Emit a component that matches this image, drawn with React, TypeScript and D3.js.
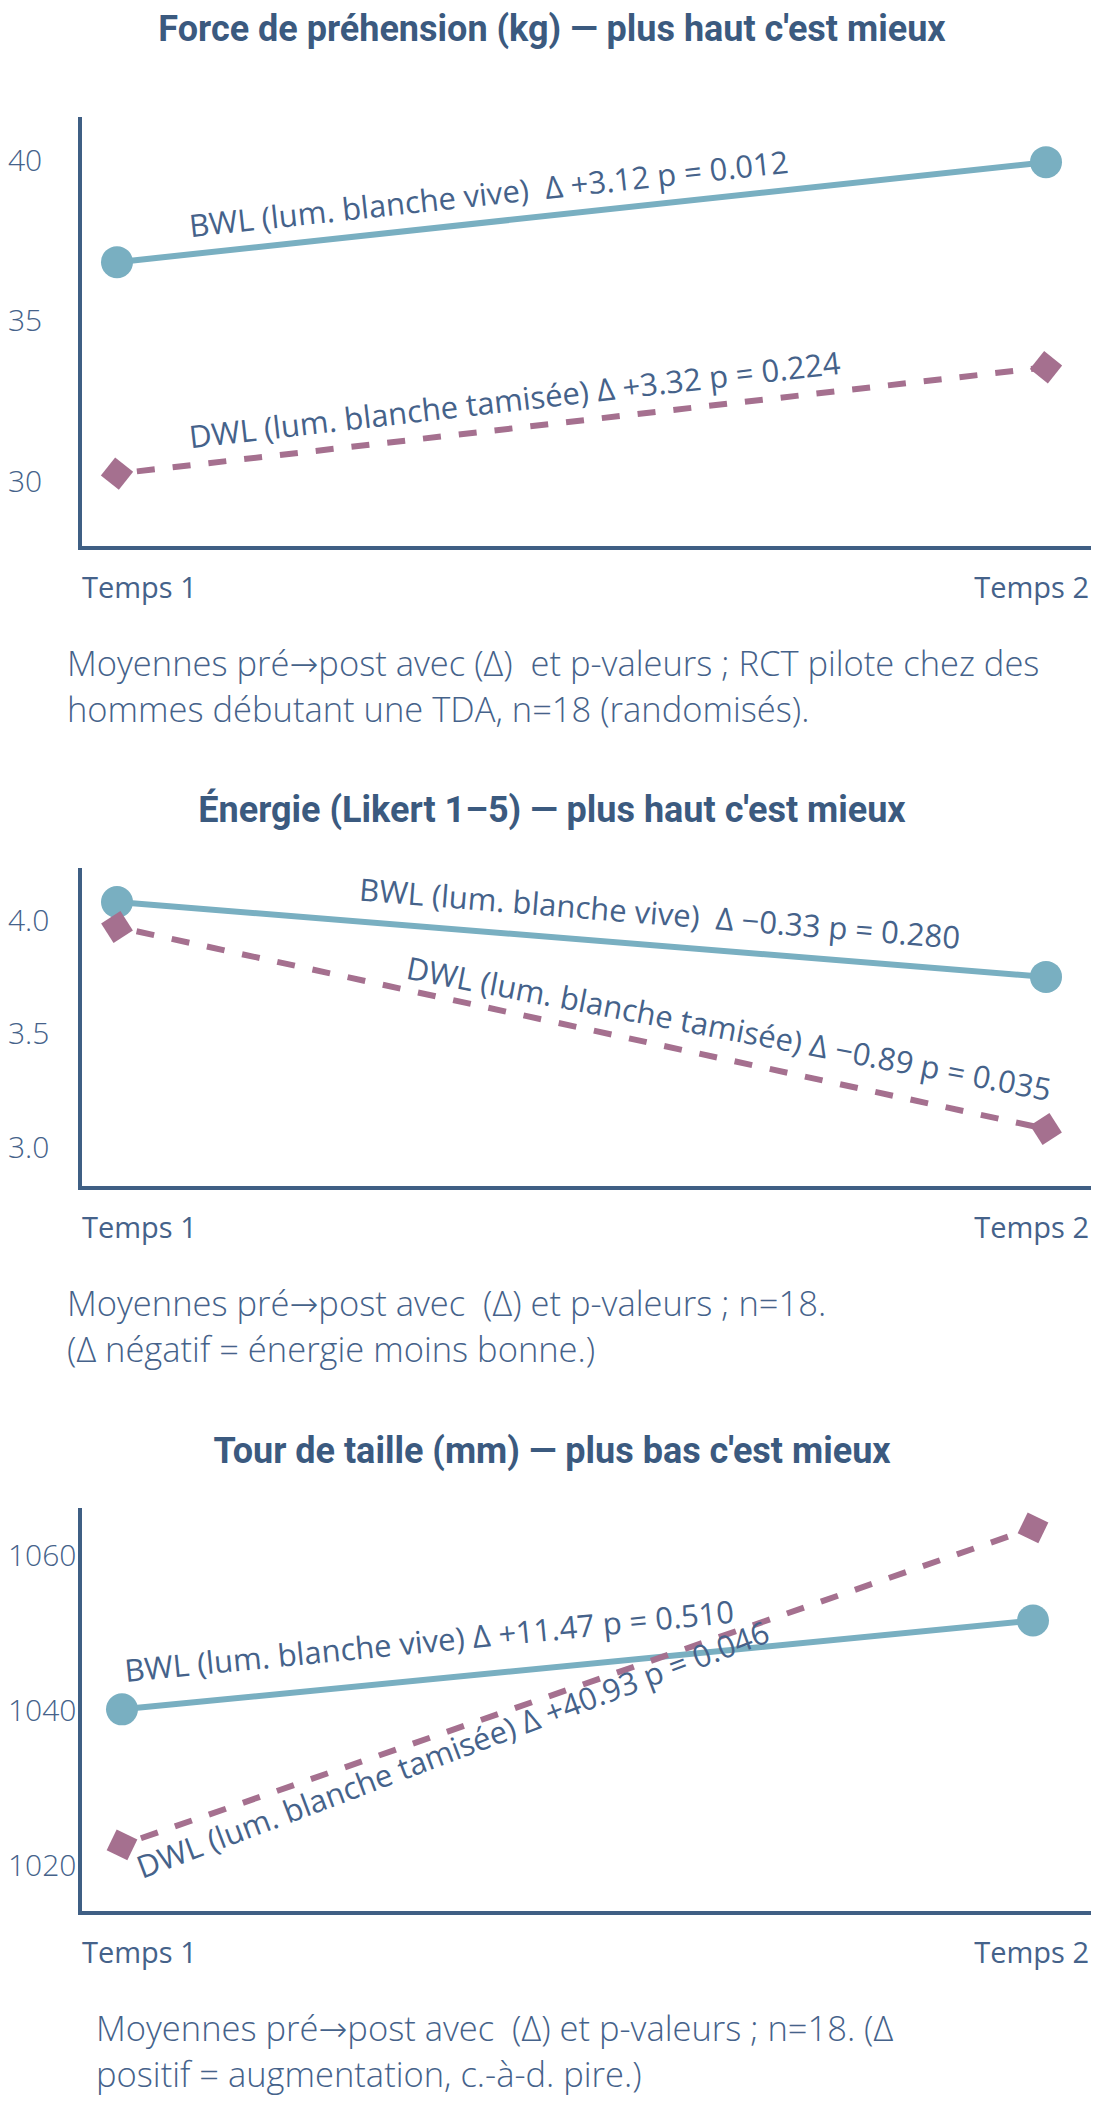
import { useEffect, useRef } from "react";
import * as d3 from "d3";

// ---- data ----
const times = ["Temps 1", "Temps 2"];

const gripBWL = [36.82, 39.94];
const gripDWL = [30.22, 33.54];
const gripTicks = [30, 35, 40];

const energyBWL = [4.08, 3.75];
const energyDWL = [3.97, 3.08];
const energyTicks = [3.0, 3.5, 4.0];

const waistBWL = [1040.1, 1051.57];
const waistDWL = [1022.6, 1063.53];
const waistTicks = [1020, 1040, 1060];

const titles = [
    "Force de préhension (kg) — plus haut c'est mieux",
    "Énergie (Likert 1–5) — plus haut c'est mieux",
    "Tour de taille (mm) — plus bas c'est mieux",
];

const bwlLabels = [
    "BWL (lum. blanche vive)  Δ +3.12 p = 0.012",
    "BWL (lum. blanche vive)  Δ −0.33 p = 0.280",
    "BWL (lum. blanche vive) Δ +11.47 p = 0.510",
];
const dwlLabels = [
    "DWL (lum. blanche tamisée) Δ +3.32 p = 0.224",
    "DWL (lum. blanche tamisée) Δ −0.89 p = 0.035",
    "DWL (lum. blanche tamisée) Δ +40.93 p = 0.046",
];

const captions = [
    ["Moyennes pré→post avec (Δ)  et p-valeurs ; RCT pilote chez des", "hommes débutant une TDA, n=18 (randomisés)."],
    ["Moyennes pré→post avec  (Δ) et p-valeurs ; n=18.", "(Δ négatif = énergie moins bonne.)"],
    ["Moyennes pré→post avec  (Δ) et p-valeurs ; n=18. (Δ", "positif = augmentation, c.-à-d. pire.)"],
];

const tickFormats = [d3.format("d"), d3.format(".1f"), d3.format("d")];

// ---- layout ----
const WIDTH = 1104;
const HEIGHT = 2122;
const AXIS_X = 80;
const AXIS_END = 1091;

const panels = [
    { bwl: gripBWL, dwl: gripDWL, ticks: gripTicks, titleY: 41, top: 117, bottom: 548, x0: 117, x1: 1046, domain: [27.9, 41.35], capX: 67,
      bwlLab: { t: 0.079, dv: 17, da: 0 }, dwlLab: { t: 0.079, dv: 17, da: 0 } },
    { bwl: energyBWL, dwl: energyDWL, ticks: energyTicks, titleY: 822, top: 868, bottom: 1188, x0: 117, x1: 1046, domain: [2.82, 4.23], capX: 67,
      bwlLab: { t: 0.26, dv: 21, da: 0 }, dwlLab: { t: 0.31, dv: 11, da: -1.5 } },
    { bwl: waistBWL, dwl: waistDWL, ticks: waistTicks, titleY: 1463, top: 1508, bottom: 1913, x0: 122, x1: 1033, domain: [1013.8, 1066.1], capX: 96,
      bwlLab: { t: 0.004, dv: 27, da: 0 }, dwlLab: { t: 0.022, dv: -41, da: -1.5 } },
];

const COL_AXIS = "#3f5f84";
const COL_TITLE = "#3b5a7f";
const COL_TEXT = "#45628a";
const COL_BWL = "#79afc1";
const COL_DWL = "#a5708f";
const FONT_BODY = "'Open Sans', sans-serif";
const FONT_TITLE = "Roboto, sans-serif";

// Open Sans has no arrow glyph, so draw "→" with DejaVu Sans
const addText = (sel: d3.Selection<SVGTextElement, any, any, any>, txt: string) => {
    txt.split(/(→)/).forEach((part) => {
        if (!part) return;
        const ts = sel.append("tspan").text(part);
        if (part === "→") ts.attr("font-family", "'DejaVu Sans'").attr("font-weight", 300);
    });
};

const App = () => {
    const chartRef = useRef<SVGSVGElement | null>(null);

    useEffect(() => {
        if (!chartRef.current) return;
        const svg = d3.select(chartRef.current);
        svg.selectAll("*").remove();

        svg.append("rect").attr("width", WIDTH).attr("height", HEIGHT).attr("fill", "#fff");

        panels.forEach((p, i) => {
            const g = svg.append("g");
            const x = d3.scalePoint<string>().domain(times).range([p.x0, p.x1]);
            const y = d3.scaleLinear().domain(p.domain).range([p.bottom, p.top]);

            // title
            g.append("text")
                .attr("x", WIDTH / 2)
                .attr("y", p.titleY)
                .attr("text-anchor", "middle")
                .attr("font-family", FONT_TITLE)
                .attr("font-weight", 700)
                .attr("font-size", 36)
                .attr("fill", COL_TITLE)
                .text(titles[i]);

            // axes (plain lines, no tick marks)
            g.append("line")
                .attr("x1", AXIS_X).attr("x2", AXIS_X)
                .attr("y1", p.top).attr("y2", p.bottom)
                .attr("stroke", COL_AXIS).attr("stroke-width", 4);
            g.append("line")
                .attr("x1", AXIS_X - 2).attr("x2", AXIS_END)
                .attr("y1", p.bottom).attr("y2", p.bottom)
                .attr("stroke", COL_AXIS).attr("stroke-width", 4);

            g.selectAll(".ytick")
                .data(p.ticks)
                .enter()
                .append("text")
                .attr("x", 8)
                .attr("y", (d) => y(d))
                .attr("dy", "0.36em")
                .attr("font-family", FONT_BODY)
                .attr("font-weight", 300)
                .attr("font-size", 30)
                .attr("fill", COL_TEXT)
                .text((d) => tickFormats[i](d));

            g.selectAll(".xtick")
                .data(times)
                .enter()
                .append("text")
                .attr("x", (_, k) => (k === 0 ? AXIS_X + 2 : AXIS_END - 2))
                .attr("y", p.bottom + 50)
                .attr("text-anchor", (_, k) => (k === 0 ? "start" : "end"))
                .attr("font-family", FONT_BODY)
                .attr("font-size", 29)
                .attr("fill", COL_TEXT)
                .text((d) => d);

            const line = d3.line<number>()
                .x((_, k) => x(times[k])!)
                .y((d) => y(d));

            g.append("path")
                .attr("d", line(p.bwl))
                .attr("fill", "none")
                .attr("stroke", COL_BWL)
                .attr("stroke-width", 6);
            g.append("path")
                .attr("d", line(p.dwl))
                .attr("fill", "none")
                .attr("stroke", COL_DWL)
                .attr("stroke-width", 6)
                .attr("stroke-dasharray", "18,18")
                .attr("stroke-dashoffset", -20);

            g.selectAll(".bwl-pt")
                .data(p.bwl)
                .enter()
                .append("circle")
                .attr("cx", (_, k) => x(times[k])!)
                .attr("cy", (d) => y(d))
                .attr("r", 16)
                .attr("fill", COL_BWL);

            const dwlAngle =
                (Math.atan2(y(p.dwl[1]) - y(p.dwl[0]), x(times[1])! - x(times[0])!) * 180) / Math.PI;
            const square = d3.symbol().type(d3.symbolSquare).size(23 * 23);
            g.selectAll(".dwl-pt")
                .data(p.dwl)
                .enter()
                .append("path")
                .attr("d", square()!)
                .attr("transform", (d, k) => `translate(${x(times[k])},${y(d)}) rotate(${45 + dwlAngle})`)
                .attr("fill", COL_DWL);

            // labels along the lines
            const placeLabel = (vals: number[], lab: { t: number; dv: number; da: number }, txt: string) => {
                const xa = x(times[0])!;
                const xb = x(times[1])!;
                const ya = y(vals[0]);
                const yb = y(vals[1]);
                const lx = xa + lab.t * (xb - xa);
                const ly = ya + lab.t * (yb - ya) - lab.dv;
                const ang = (Math.atan2(yb - ya, xb - xa) * 180) / Math.PI + lab.da;
                g.append("text")
                    .attr("transform", `translate(${lx},${ly}) rotate(${ang})`)
                    .attr("font-family", FONT_BODY)
                    .attr("font-size", 31)
                    .attr("fill", COL_TEXT)
                    .style("white-space", "pre")
                    .text(txt);
            };
            placeLabel(p.bwl, p.bwlLab, bwlLabels[i]);
            placeLabel(p.dwl, p.dwlLab, dwlLabels[i]);

            // caption
            captions[i].forEach((c, k) => {
                const t = g.append("text")
                    .attr("x", p.capX)
                    .attr("y", p.bottom + 128 + k * 46)
                    .attr("font-family", FONT_BODY)
                    .attr("font-weight", 300)
                    .attr("font-size", 34.5)
                    .attr("fill", COL_TEXT)
                    .style("white-space", "pre");
                addText(t, c);
            });
        });
    }, []);

    return (
        <svg
            ref={chartRef}
            width={WIDTH}
            height={HEIGHT}
            style={{ position: "absolute", left: 0, top: 0 }}
        ></svg>
    );
};

export default App;
